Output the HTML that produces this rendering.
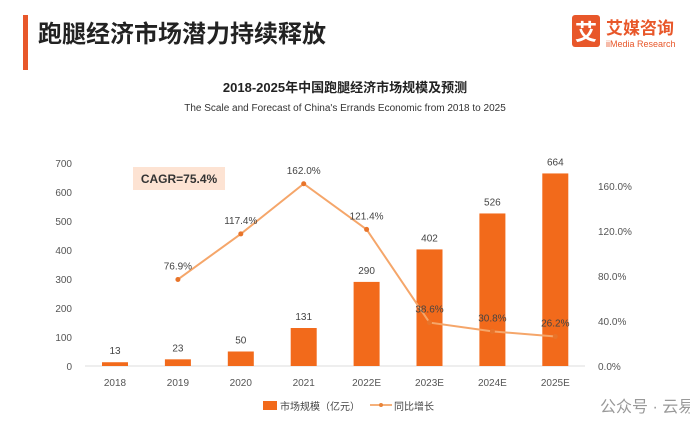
<!DOCTYPE html>
<html><head><meta charset="utf-8"><style>
body{margin:0;width:690px;height:422px;background:#fff;overflow:hidden;font-family:"Liberation Sans","Noto Sans CJK SC",sans-serif}
</style></head><body>
<svg width="690" height="422" xmlns="http://www.w3.org/2000/svg" font-family="Liberation Sans, Noto Sans CJK SC, sans-serif">
<rect x="23" y="15" width="5" height="55" fill="#e8572a"/>
<text x="38" y="42" font-size="24" font-weight="bold" fill="#222">跑腿经济市场潜力持续释放</text>
<g>
<rect x="572" y="15" width="28" height="32" rx="3" fill="#e8572a"/>
<text x="586" y="40" font-size="22" fill="#fff" text-anchor="middle" font-weight="bold">艾</text>
<text x="606" y="34" font-size="17" fill="#e8572a" font-weight="bold">艾媒咨询</text>
<text x="606" y="47" font-size="9" fill="#e8572a">iiMedia Research</text>
</g>
<text x="345" y="92" font-size="13" font-weight="bold" fill="#222" text-anchor="middle">2018-2025年中国跑腿经济市场规模及预测</text>
<text x="345" y="111" font-size="10" fill="#333" text-anchor="middle">The Scale and Forecast of China's Errands Economic from 2018 to 2025</text>
<rect x="133" y="167" width="92" height="23" fill="#fde3d3"/>
<text x="179" y="183" font-size="12" font-weight="bold" fill="#333" text-anchor="middle">CAGR=75.4%</text>
<line x1="85" y1="366" x2="585" y2="366" stroke="#ddd"/>
<g id="chart"></g>
<g>
<rect x="263" y="401" width="14" height="9" fill="#f26a1b"/>
<text x="280" y="410" font-size="10" fill="#444">市场规模（亿元）</text>
<line x1="370" y1="405" x2="392" y2="405" stroke="#f5b07a" stroke-width="2"/>
<circle cx="381" cy="405" r="2" fill="#e8843a"/>
<text x="394" y="410" font-size="10" fill="#444">同比增长</text>
</g>
<text x="600" y="412" font-size="16" fill="#999">公众号 · 云易菌</text>
</svg>
<script>
const categories=["2018","2019","2020","2021","2022E","2023E","2024E","2025E"];
const sizes=[13,23,50,131,290,402,526,664];
const growth=[null,76.9,117.4,162.0,121.4,38.6,30.8,26.2];
const leftTicks=[0,100,200,300,400,500,600,700];
const rightTicks=[0,40,80,120,160];
const ns="http://www.w3.org/2000/svg";
const g=document.getElementById("chart");
const x=i=>115+i*62.9;
const yL=v=>366-v*0.29;
const yR=v=>366-v*(180/160);
function el(t,a,txt){const e=document.createElementNS(ns,t);for(const k in a)e.setAttribute(k,a[k]);if(txt!=null)e.textContent=txt;g.appendChild(e);return e;}
leftTicks.forEach(v=>{const e=el("text",{x:72,y:yL(v)+4,"font-size":10,fill:"#555","text-anchor":"end"},v);

});
rightTicks.forEach(v=>{const e=el("text",{x:598,y:yR(v)+4,"font-size":10,fill:"#555"},v.toFixed(1)+"%");

});
categories.forEach((c,i)=>{
const b=el("rect",{x:x(i)-13,y:yL(sizes[i]),width:26,height:366-yL(sizes[i]),fill:"#f26a1b"});


const t=el("text",{x:x(i),y:yL(sizes[i])-8,"font-size":10,fill:"#444","text-anchor":"middle"},sizes[i]);


const l=el("text",{x:x(i),y:386,"font-size":10,fill:"#555","text-anchor":"middle"},c);


});
let pts=[];growth.forEach((v,i)=>{if(v!=null)pts.push(x(i)+","+yR(v));});
const pl=el("polyline",{points:pts.join(" "),fill:"none",stroke:"#f5a66a","stroke-width":2});


growth.forEach((v,i)=>{if(v==null)return;
const c=el("circle",{cx:x(i),cy:yR(v),r:2.5,fill:"#e8742a"});


const t=el("text",{x:x(i),y:yR(v)-10,"font-size":10,fill:"#444","text-anchor":"middle"},v.toFixed(1)+"%");


});
</script>
</body></html>
